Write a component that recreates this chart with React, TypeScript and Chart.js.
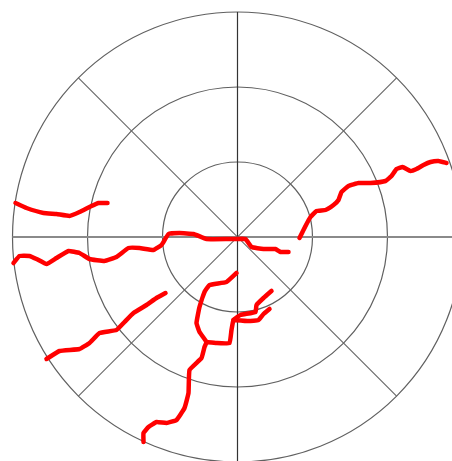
import React, { useEffect, useRef } from "react";
import { Chart, registerables } from "chart.js";

Chart.register(...registerables);

// Ring radii and spoke angles (degrees) of the polar grid, in distance units
const ringRadii = [75, 150, 225];
const spokeAngles = [0, 45, 90, 135];

// Traced curves (x = east, y = north, distance units from centre)
const curveAX = [-222, -211, -194, -181, -168, -158, -146, -139, -130];
const curveAY = [34, 29, 24, 23, 21, 25, 31, 34, 34];

const curveBX = [-224, -218, -208, -201, -191, -181, -169, -158, -148, -133, -121, -109, -98, -84, -76, -69, -58, -44, -31, -8, -1, 8, 14, 26, 38, 43, 51];
const curveBY = [-26, -19, -19, -22, -27, -21, -14, -16, -22, -24, -20, -11, -11, -13, -8, 3, 4, 3, -2, -2, -2, -2, -10, -12, -12, -15, -15];

const curveCX = [62, 68, 73, 79, 88, 96, 101, 104, 111, 121, 133, 148, 154, 159, 165, 173, 179, 186, 193, 201, 209];
const curveCY = [-1, 11, 20, 26, 27, 32, 37, 45, 51, 54, 54, 56, 61, 68, 70, 66, 68, 72, 75, 76, 74];

const curveDX = [-191, -178, -158, -148, -138, -121, -113, -104, -91, -81, -72];
const curveDY = [-122, -114, -112, -106, -96, -93, -85, -76, -68, -61, -56];

const curveEX = [-1, -11, -28, -33, -38, -41, -38, -31, -33, -36, -48, -49, -53, -61, -71, -81, -89, -94, -94];
const curveEY = [-36, -45, -48, -55, -70, -86, -95, -105, -110, -121, -133, -156, -171, -183, -186, -185, -190, -196, -205];

const branch1X = [-31, -21, -8, -6, -4, 3, 18, 19, 26, 34];
const branch1Y = [-105, -106, -106, -93, -83, -78, -75, -68, -61, -54];

const branch2X = [-4, 11, 21, 26, 32];
const branch2Y = [-83, -84, -83, -77, -72];

const curves = [
  [curveAX, curveAY],
  [curveBX, curveBY],
  [curveCX, curveCY],
  [curveDX, curveDY],
  [curveEX, curveEY],
  [branch1X, branch1Y],
  [branch2X, branch2Y],
];

const gridPlugin = {
  id: "polarGrid",
  beforeDatasetsDraw(chart: any) {
    const ctx = chart.ctx;
    const xs = chart.scales.x;
    const ys = chart.scales.y;
    const cx = xs.getPixelForValue(0);
    const cy = ys.getPixelForValue(0);
    const unit = xs.getPixelForValue(1) - cx;
    const outer = ringRadii[ringRadii.length - 1] * unit;
    ctx.save();
    ctx.strokeStyle = "#606060";
    ctx.lineWidth = 1.2;
    ringRadii.forEach((r) => {
      ctx.beginPath();
      ctx.arc(cx, cy, r * unit, 0, Math.PI * 2);
      ctx.stroke();
    });
    spokeAngles.forEach((a) => {
      const rad = (a * Math.PI) / 180;
      const dx = Math.cos(rad) * outer;
      const dy = Math.sin(rad) * outer;
      ctx.beginPath();
      if (a === 0) {
        ctx.strokeStyle = "#8a8a8a";
        ctx.lineWidth = 2;
      } else if (a === 90) {
        ctx.strokeStyle = "#333333";
        ctx.lineWidth = 1.2;
      } else {
        ctx.strokeStyle = "#666666";
        ctx.lineWidth = 1.1;
      }
      ctx.moveTo(cx - dx, cy + dy);
      ctx.lineTo(cx + dx, cy - dy);
      ctx.stroke();
    });
    ctx.restore();
  },
};

export default function App() {
  const ref = useRef<HTMLCanvasElement>(null);
  useEffect(() => {
    if (!ref.current) return;
    const chart = new Chart(ref.current, {
      type: "scatter",
      data: {
        datasets: curves.map(([xs, ys]) => ({
          data: xs.map((x, i) => ({ x, y: ys[i] })),
          showLine: true,
          borderColor: "#ff0000",
          backgroundColor: "#ff0000",
          borderWidth: 4.5,
          pointRadius: 0,
          tension: 0.1,
          borderCapStyle: "round",
          borderJoinStyle: "round",
        })),
      },
      options: {
        animation: false,
        responsive: false,
        maintainAspectRatio: false,
        layout: { padding: 0 },
        plugins: { legend: { display: false }, tooltip: { enabled: false } },
        scales: {
          x: { type: "linear", min: -237.5, max: 214.5, display: false },
          y: { type: "linear", min: -224, max: 237, display: false },
        },
      },
      plugins: [gridPlugin],
    } as any);
    return () => chart.destroy();
  }, []);
  return (
    <div style={{ position: "fixed", left: 0, top: 0, width: 452, height: 461, background: "#fff" }}>
      <canvas ref={ref} width={452} height={461} style={{ display: "block" }} />
    </div>
  );
}
